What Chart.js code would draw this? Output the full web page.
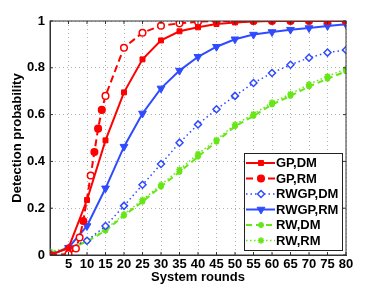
<!DOCTYPE html>
<html>
<head>
<meta charset="utf-8">
<script src="https://cdn.jsdelivr.net/npm/chart.js@4/dist/chart.umd.min.js"></script>
<style>
  html, body { margin: 0; padding: 0; background: #fff; }
  #wrap { width: 382px; height: 287px; }
</style>
</head>
<body>
<div id="wrap"><canvas id="chart" width="382" height="287"></canvas></div>
<script>
// values
const rounds = [0, 5, 10, 15, 20, 25, 30, 35, 40, 45, 50, 55, 60, 65, 70, 75, 80];
const gpDm = [0, 0.03, 0.235, 0.49, 0.695, 0.836, 0.917, 0.956, 0.973, 0.987, 0.994, 0.998, 1, 1, 1, 1, 1];
const gpRmRounds = [0, 5, 7, 8, 9, 11, 12, 13, 14, 15, 20, 25, 30, 35, 40, 45, 50, 55, 60, 65, 70, 75, 80];
const gpRm = [0, 0.004, 0.028, 0.075, 0.145, 0.34, 0.44, 0.54, 0.62, 0.68, 0.886, 0.95, 0.98, 0.99, 0.997, 1, 1, 1, 1, 1, 1, 1, 1];
const gpRmFilled = [0, 0, 0, 0, 1, 0, 1, 1, 1, 0, 0, 0, 0, 0, 0, 0, 0, 0, 0, 0, 0, 0, 0];
const rwgpDm = [0.005, 0.03, 0.061, 0.124, 0.21, 0.30, 0.389, 0.48, 0.558, 0.623, 0.68, 0.735, 0.778, 0.813, 0.843, 0.865, 0.876];
const rwgpRm = [0, 0.031, 0.124, 0.285, 0.463, 0.605, 0.712, 0.788, 0.847, 0.89, 0.922, 0.942, 0.953, 0.963, 0.97, 0.979, 0.986];
const rwDm = [0.012, 0.026, 0.058, 0.104, 0.168, 0.228, 0.292, 0.355, 0.42, 0.484, 0.55, 0.594, 0.643, 0.68, 0.72, 0.753, 0.785];
const rwRm = [0.015, 0.03, 0.063, 0.11, 0.174, 0.236, 0.3, 0.365, 0.432, 0.492, 0.558, 0.602, 0.652, 0.688, 0.73, 0.764, 0.795];
const xTicks = [5, 10, 15, 20, 25, 30, 35, 40, 45, 50, 55, 60, 65, 70, 75, 80];
const yTicks = ['0', '0.2', '0.4', '0.6', '0.8', '1'];

const RED = '#ff0000';
const BLUE = '#2f4bff';
const GREEN = '#66e617';
const FONT = { family: '"Liberation Sans", Arial, sans-serif', size: 13, weight: 'bold' };

function pts(xs, ys) {
    return xs.map((x, i) => ({ x: x, y: ys[i] }));
}

const datasets = [
    {
        label: 'GP,DM', data: pts(rounds, gpDm),
        borderColor: RED, backgroundColor: RED, borderWidth: 2,
        pointStyle: 'rect', pointRadius: 3.5, pointBorderWidth: 1
    },
    {
        label: 'GP,RM', data: pts(gpRmRounds, gpRm),
        borderColor: RED, backgroundColor: gpRmFilled.map(f => f ? RED : '#fff'),
        borderWidth: 2, borderDash: [7, 4],
        pointStyle: 'circle', pointRadius: 3.3, pointBorderWidth: 1.5,
        legendFill: RED
    },
    {
        label: 'RWGP,DM', data: pts(rounds, rwgpDm),
        borderColor: BLUE, backgroundColor: '#fff', borderWidth: 1.5, borderDash: [1.5, 3],
        pointStyle: 'rectRot', pointRadius: 3.5, pointBorderWidth: 1.5
    },
    {
        label: 'RWGP,RM', data: pts(rounds, rwgpRm),
        borderColor: BLUE, backgroundColor: BLUE, borderWidth: 2,
        pointStyle: 'triangle', rotation: 180, pointRadius: 4.5, pointBorderWidth: 1
    },
    {
        label: 'RW,DM', data: pts(rounds, rwDm),
        borderColor: GREEN, backgroundColor: GREEN, borderWidth: 2, borderDash: [6, 4],
        pointStyle: 'circle', pointRadius: 2.5, pointBorderWidth: 1
    },
    {
        label: 'RW,RM', data: pts(rounds, rwRm),
        borderColor: GREEN, backgroundColor: GREEN, borderWidth: 1.5, borderDash: [1.5, 2.5],
        pointStyle: 'star', pointRadius: 3.2, pointBorderWidth: 1.5
    }
];

// full box round the plot area plus small inward ticks on top and right
const frame = {
    id: 'frame',
    afterDatasetsDraw(chart) {
        const { ctx, chartArea: a, scales } = chart;
        ctx.save();
        ctx.strokeStyle = '#333';
        ctx.lineWidth = 1;
        ctx.strokeRect(a.left, a.top, a.right - a.left, a.bottom - a.top);
        ctx.beginPath();
        xTicks.forEach(v => {
            const x = scales.x.getPixelForValue(v);
            ctx.moveTo(x, a.bottom); ctx.lineTo(x, a.bottom - 3);
            ctx.moveTo(x, a.top); ctx.lineTo(x, a.top + 3);
        });
        yTicks.forEach(t => {
            const y = scales.y.getPixelForValue(parseFloat(t));
            ctx.moveTo(a.left, y); ctx.lineTo(a.left + 3, y);
            ctx.moveTo(a.right, y); ctx.lineTo(a.right - 3, y);
        });
        ctx.stroke();
        ctx.restore();
    }
};

// legend box inside the lower right of the plot
const boxLegend = {
    id: 'boxLegend',
    afterDatasetsDraw(chart) {
        const ctx = chart.ctx;
        const left = 244, top = 153, w = 98, h = 97;
        ctx.save();
        ctx.fillStyle = '#fff';
        ctx.fillRect(left, top, w, h);
        ctx.strokeStyle = '#222';
        ctx.lineWidth = 1;
        ctx.strokeRect(left + 0.5, top + 0.5, w, h);
        ctx.font = 'bold 13px "Liberation Sans", Arial, sans-serif';
        ctx.textBaseline = 'middle';
        chart.data.datasets.forEach((ds, i) => {
            const y = top + 10 + i * 15.5;
            ctx.strokeStyle = ds.borderColor;
            ctx.lineWidth = ds.borderWidth;
            ctx.setLineDash(ds.borderDash || []);
            ctx.beginPath();
            ctx.moveTo(left + 2, y);
            ctx.lineTo(left + 31, y);
            ctx.stroke();
            ctx.setLineDash([]);
            ctx.lineWidth = ds.pointBorderWidth;
            ctx.strokeStyle = ds.borderColor;
            ctx.fillStyle = ds.legendFill || ds.backgroundColor;
            Chart.helpers.drawPoint(ctx, {
                pointStyle: ds.pointStyle, rotation: ds.rotation || 0,
                radius: ds.pointRadius, borderWidth: ds.pointBorderWidth
            }, left + 17, y);
            ctx.fillStyle = '#000';
            ctx.fillText(ds.label, left + 32, y + 0.5);
        });
        ctx.restore();
    }
};

new Chart(document.getElementById('chart').getContext('2d'), {
    type: 'line',
    data: { datasets: datasets },
    options: {
        responsive: false,
        animation: false,
        layout: { padding: { top: 21, right: 36, left: 0, bottom: 0 } },
        plugins: { legend: { display: false }, tooltip: { enabled: false } },
        scales: {
            x: {
                type: 'linear', min: 0, max: 80,
                afterFit(s) { s.height = 32; },
                afterBuildTicks(s) { s.ticks = [0].concat(xTicks).map(v => ({ value: v })); },
                ticks: {
                    color: '#000', font: FONT, padding: 2, maxRotation: 0, autoSkip: false,
                    callback: v => (v === 0 ? '' : String(v))
                },
                grid: { color: 'rgba(0,0,0,0.3)', drawTicks: false },
                border: { color: '#333', dash: [1, 3] },
                title: { display: true, text: 'System rounds', color: '#000', font: FONT, padding: { top: 0, bottom: 2 } }
            },
            y: {
                type: 'linear', min: 0, max: 1,
                afterFit(s) { s.width = 50; },
                afterBuildTicks(s) { s.ticks = yTicks.map(t => ({ value: parseFloat(t) })); },
                ticks: {
                    color: '#000', font: FONT, padding: 5, autoSkip: false,
                    callback: v => String(Math.round(v * 10) / 10)
                },
                grid: { color: 'rgba(0,0,0,0.3)', drawTicks: false },
                border: { color: '#333', dash: [1, 3] },
                title: { display: true, text: 'Detection probability', color: '#000', font: FONT, padding: { top: 10, bottom: 0 } }
            }
        }
    },
    plugins: [frame, boxLegend]
});
</script>
</body>
</html>
